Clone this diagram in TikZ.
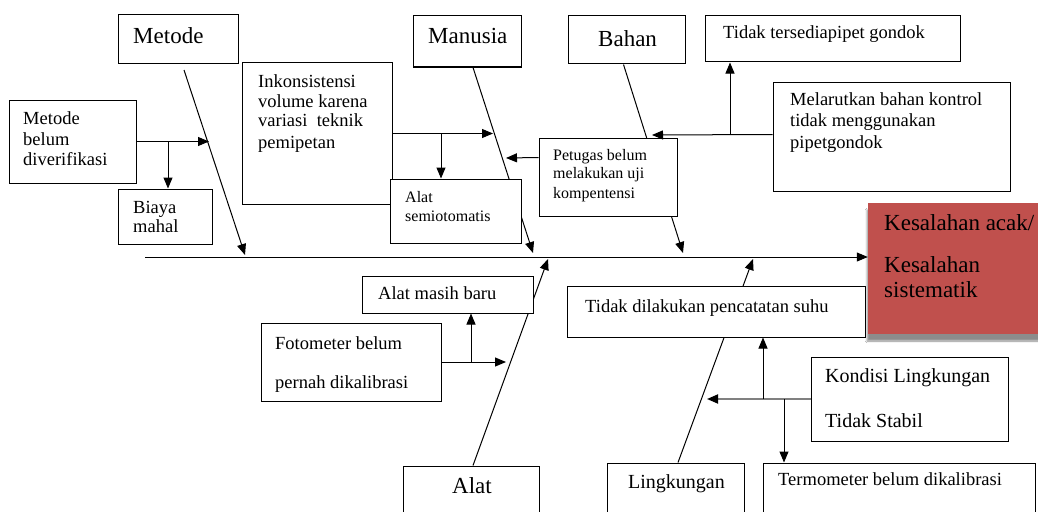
\documentclass[tikz,border=0pt]{standalone}
\usepackage{fontspec}
\setmainfont{Liberation Serif}
\usetikzlibrary{arrows.meta,shadows.blur}
\definecolor{redbox}{HTML}{C0504D}
\newcommand{\fbig}{\fontsize{23}{27}\selectfont}
\newcommand{\flrg}{\fontsize{20}{24}\selectfont}
\newcommand{\fmed}{\fontsize{18.5}{22}\selectfont}
\newcommand{\fsml}{\fontsize{16}{19}\selectfont}
\tikzset{
  box/.style={draw=black, line width=1pt, fill=white, inner sep=0pt},
  txt/.style={anchor=base west, inner sep=0pt, text=black},
  arr/.style={line width=1pt, -{Triangle[length=11pt,width=9pt]}},
}
\begin{document}
\begin{tikzpicture}[x=1pt,y=-1pt]
\useasboundingbox (0,0) rectangle (1038,511);
\clip (0,0) rectangle (1038,511);
\fill[white] (0,0) rectangle (1038,511);

% spine and bones
\coordinate (sp0) at (145,257);
\coordinate (bMetA) at (184,70);
\coordinate (bMetB) at (245,255);
\coordinate (bManB) at (533,253);
\coordinate (bBahB) at (683,253);
\coordinate (bAlaB) at (548,259);
\coordinate (bLinB) at (753,259);

% red effect box
\node[fill=redbox, draw=none, minimum width=175pt, minimum height=131pt, inner sep=0pt,
      blur shadow={shadow xshift=-1pt, shadow yshift=-7pt, shadow blur steps=6, shadow opacity=45}]
      (red) at (955.5,268.5) {};

\draw[arr] (sp0) -- (sp0 -| red.west);

% boxes (top)
\node[box, minimum width=120pt, minimum height=49pt] (metode) at (178,39.5) {};
\node[box, minimum width=108pt, minimum height=51pt] (manusia) at (467,41.5) {};
\node[box, minimum width=117pt, minimum height=48pt] (bahan) at (626.5,40) {};

\draw[arr] (bMetA) -- (bMetB);
\draw[arr] ([xshift=6pt]manusia.south) -- (bManB);
\draw[arr] ([xshift=-3pt]bahan.south) -- (bBahB);

% boxes (bottom)
\node[box, minimum width=136pt, minimum height=59pt] (alat) at (471,495.5) {};
\node[box, minimum width=137pt, minimum height=62pt] (lingk) at (675.5,494) {};
\node[box, minimum width=272pt, minimum height=62pt] (termo) at (899,494) {};

\draw[arr] ([xshift=2pt]alat.north) -- (bAlaB);
\draw[arr] ([xshift=2.5pt]lingk.north) -- (bLinB);

% sub-cause boxes
\node[box, minimum width=255pt, minimum height=46pt] (tersedia) at (832.5,39) {};
\node[box, minimum width=237pt, minimum height=109pt] (melarut) at (891.5,136.5) {};
\node[box, minimum width=150pt, minimum height=141pt] (inkons) at (317,133.5) {};
\node[box, minimum width=127pt, minimum height=83pt] (mbelum) at (72.5,141.5) {};
\node[box, minimum width=94pt, minimum height=55pt] (biaya) at (165,216.5) {};
\node[box, minimum width=131pt, minimum height=64pt] (semio) at (455.5,211) {};
\node[box, minimum width=138pt, minimum height=78pt] (petugas) at (608,177) {};
\node[box, minimum width=171pt, minimum height=37pt] (masih) at (447.5,294.5) {};
\node[box, minimum width=180pt, minimum height=78pt] (foto) at (351,362) {};
\node[box, minimum width=298pt, minimum height=51pt] (suhu) at (716,311.5) {};
\node[box, minimum width=197pt, minimum height=84pt] (kondisi) at (909.5,399) {};

% sub-cause connectors
\coordinate (tMb) at (209,141.5);
\coordinate (jMb) at (168,141.5);
\draw[arr] (mbelum.east) -- (tMb);
\draw[arr] (jMb) -- (jMb |- biaya.north);

\coordinate (tIn) at (493,133.5);
\coordinate (jIn) at (441,133.5);
\draw[arr] (inkons.east) -- (tIn);
\draw[arr] (jIn) -- (jIn |- semio.north);

\coordinate (tPe) at (506,158);
\draw[arr] ([yshift=-20pt]petugas.north west) -- (tPe);

\coordinate (tMe) at (652,135);
\coordinate (jMe) at (730,135);
\draw[arr] ([yshift=-53pt]melarut.north west) -- (tMe);
\draw[arr] (jMe) -- (jMe |- tersedia.south);

\coordinate (tFo) at (506,362);
\coordinate (jFo) at (471,362);
\draw[arr] (foto.east) -- (tFo);
\draw[arr] (jFo) -- (jFo |- masih.south);

\coordinate (tKo) at (707,399);
\coordinate (jKo1) at (763,399);
\coordinate (jKo2) at (784,399);
\draw[line width=1.8pt, draw=black!50, -{Triangle[length=11pt,width=9pt,fill=black,color=black]}] (kondisi.west) -- (tKo);
\draw[arr] (jKo1) -- (jKo1 |- suhu.south);
\draw[arr] (jKo2) -- (jKo2 |- termo.north);

% texts
\node[txt, font=\fbig] (tx1) at (133,44) {Metode};
\node[txt, font=\fbig] (tx2) at (428,44) {Manusia};
\node[txt, font=\fbig] (tx3) at (598,47) {Bahan};
\node[txt, font=\fbig] (tx4) at (452,493) {Alat};
\node[txt, font=\flrg] (tx5) at (628,488) {Lingkungan};
\node[txt, font=\fmed] (tx6) at (778,485) {Termometer belum dikalibrasi};

\node[txt, font=\fmed] (tx7) at (723,39) {Tidak tersediapipet gondok};
\node[txt, font=\fmed] (tx8a) at (790,105) {Melarutkan bahan kontrol};
\node[txt, font=\fmed] (tx8b) at (790,126) {tidak menggunakan};
\node[txt, font=\fmed] (tx8c) at (790,148) {pipetgondok};

\node[txt, font=\fmed] (tx9a) at (258,87) {Inkonsistensi};
\node[txt, font=\fmed] (tx9b) at (258,107) {volume karena};
\node[txt, font=\fmed] (tx9c) at (258,126) {variasi\ \ teknik};
\node[txt, font=\fmed] (tx9d) at (258,148) {pemipetan};

\node[txt, font=\fmed] (tx10a) at (23,124) {Metode};
\node[txt, font=\fmed] (tx10b) at (23,145) {belum};
\node[txt, font=\fmed] (tx10c) at (23,165) {diverifikasi};

\node[txt, font=\fmed] (tx11a) at (133,213) {Biaya};
\node[txt, font=\fmed] (tx11b) at (133,232) {mahal};

\node[txt, font=\fsml] (tx12a) at (405,202) {Alat};
\node[txt, font=\fsml] (tx12b) at (405,221) {semiotomatis};

\node[txt, font=\fsml] (tx13a) at (553,160) {Petugas belum};
\node[txt, font=\fsml] (tx13b) at (553,178) {melakukan uji};
\node[txt, font=\fsml] (tx13c) at (553,198) {kompentensi};

\node[txt, font=\fmed] (tx14) at (378,299) {Alat masih baru};
\node[txt, font=\fmed] (tx15a) at (275,349) {Fotometer belum};
\node[txt, font=\fmed] (tx15b) at (275,388) {pernah dikalibrasi};

\node[txt, font=\fmed] (tx16) at (585,312) {Tidak dilakukan pencatatan suhu};
\node[txt, font=\flrg] (tx17a) at (825,382) {Kondisi Lingkungan};
\node[txt, font=\flrg] (tx17b) at (825,427) {Tidak Stabil};

\node[txt, font=\fbig] (tx18a) at (884,230) {Kesalahan acak/};
\node[txt, font=\fbig] (tx18b) at (884,272) {Kesalahan};
\node[txt, font=\fbig] (tx18c) at (884,297) {sistematik};
\end{tikzpicture}
\end{document}
